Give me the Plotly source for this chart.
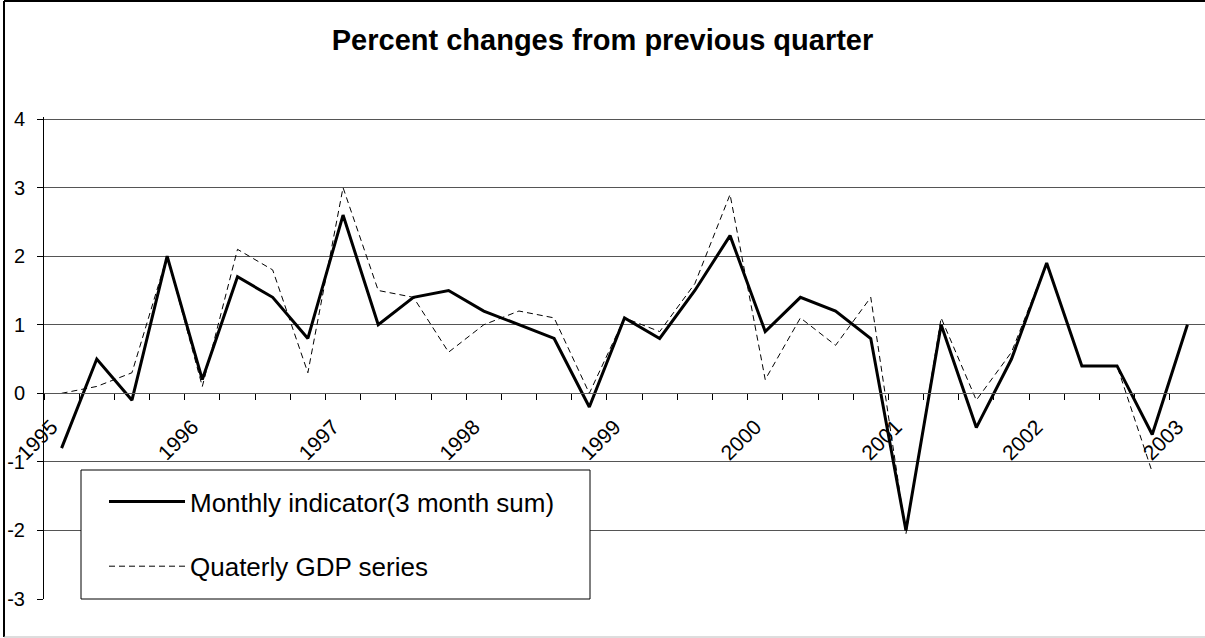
import plotly.graph_objects as go

# Quarterly observations, 1995 Q1 to 2003 Q1
quarters = [f"{y} Q{q}" for y in range(1995, 2004) for q in range(1, 5)][:33]
year_labels = ["1995", "1996", "1997", "1998", "1999", "2000", "2001", "2002", "2003"]
y_ticks = [-3, -2, -1, 0, 1, 2, 3, 4]

monthly_indicator = [-0.8, 0.5, -0.1, 2.0, 0.2, 1.7, 1.4, 0.8, 2.6, 1.0, 1.4, 1.5,
                     1.2, 1.0, 0.8, -0.2, 1.1, 0.8, 1.5, 2.3, 0.9, 1.4, 1.2, 0.8,
                     -2.0, 1.0, -0.5, 0.5, 1.9, 0.4, 0.4, -0.6, 1.0]
quarterly_gdp = [0.0, 0.1, 0.3, 2.0, 0.1, 2.1, 1.8, 0.3, 3.0, 1.5, 1.4, 0.6,
                 1.0, 1.2, 1.1, 0.0, 1.1, 0.9, 1.6, 2.9, 0.2, 1.1, 0.7, 1.4,
                 -2.05, 1.1, -0.1, 0.6, 1.9, 0.4, 0.4, -1.15, None]

idx = list(range(len(quarters)))
FONT = "Arial, Liberation Sans, sans-serif"

fig = go.Figure()
fig.add_trace(go.Scatter(
    x=idx, y=quarterly_gdp, mode="lines", name="Quaterly GDP series",
    line=dict(color="black", width=1, dash="6px,4px"),
    legendgroup="g2", legendrank=2, text=quarters, hoverinfo="text+y"))
fig.add_trace(go.Scatter(
    x=idx, y=monthly_indicator, mode="lines", name="Monthly indicator(3 month sum)",
    line=dict(color="black", width=3),
    legendgroup="g1", legendrank=1, text=quarters, hoverinfo="text+y"))

L, T, B = 44, 117, 39
W, H = 1205, 638
plot_w = W - L
plot_h = H - T - B
ymin, ymax = -3, 4.03  # small headroom so the top gridline is drawn


def px_x(px):
    return (px - L) / plot_w


def px_y(py):
    return (H - B - py) / plot_h


fig.update_layout(
    width=W, height=H, autosize=False,
    margin=dict(l=L, r=0, t=T, b=B, pad=0),
    paper_bgcolor="white", plot_bgcolor="white",
    font=dict(family=FONT, color="black", size=20),
    title=dict(text="<b>Percent changes from previous quarter</b>",
               x=0.5, xref="container", xanchor="center",
               y=1 - 40 / H, yref="container", yanchor="middle",
               font=dict(family=FONT, size=29, color="black")),
    showlegend=True,
    legend=dict(
        x=px_x(87), xanchor="left",
        y=px_y(478), yanchor="top",
        bgcolor="rgba(0,0,0,0)", borderwidth=0,
        font=dict(family=FONT, size=26, color="black"),
        tracegroupgap=28, traceorder="grouped",
        itemwidth=76, indentation=17),
    xaxis=dict(
        range=[-0.5, len(idx) - 0.5],
        anchor="free", position=(0 - ymin) / (ymax - ymin),
        showgrid=False, zeroline=False,
        showline=True, linecolor="#555", linewidth=1,
        tickmode="array", tickvals=idx[::4], ticktext=year_labels,
        ticks="outside", ticklen=0, tickangle=-45,
        ticklabelstandoff=12, ticklabelshift=-10,
        tickfont=dict(family=FONT, size=21, color="black"),
        minor=dict(ticks="outside", ticklen=6, tickcolor="black", tickwidth=1,
                   tickvals=[i - 0.5 for i in range(len(idx) + 1)]),
    ),
    yaxis=dict(
        range=[ymin, ymax],
        tickmode="array", tickvals=y_ticks, ticktext=[str(v) for v in y_ticks],
        showgrid=True, gridcolor="#555", gridwidth=1,
        zeroline=False,
        showline=True, linecolor="black", linewidth=1,
        ticks="outside", ticklen=6, tickcolor="black",
        ticklabelstandoff=8,
        tickfont=dict(family=FONT, size=20, color="black"),
    ),
)

# Legend frame, filled white so the gridlines stop at its edge
fig.add_shape(type="rect", xref="paper", yref="paper", layer="above",
              x0=px_x(81), x1=px_x(590), y0=px_y(599), y1=px_y(470),
              fillcolor="white", line=dict(color="black", width=1))

# Chart frame
frame_left = px_x(4)
frame_right = px_x(W + 5)
frame_top = px_y(1)
frame_bottom = px_y(637)
fig.add_shape(type="line", xref="paper", yref="paper",
              x0=frame_left, x1=frame_left, y0=frame_bottom, y1=frame_top,
              line=dict(color="black", width=2))
fig.add_shape(type="line", xref="paper", yref="paper",
              x0=frame_left, x1=frame_right, y0=frame_top, y1=frame_top,
              line=dict(color="black", width=2))
fig.add_shape(type="line", xref="paper", yref="paper",
              x0=frame_left, x1=frame_right, y0=frame_bottom, y1=frame_bottom,
              line=dict(color="#bbbbbb", width=1))

fig.write_html("out.html")
